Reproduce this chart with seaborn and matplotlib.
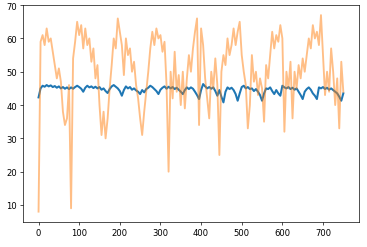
import numpy as np
import pandas as pd
import matplotlib
matplotlib.use("Agg")
import matplotlib.pyplot as plt
import seaborn as sns

step = 5
x_values = list(range(0, 751, step))

blue_values = [
    42.3, 45.0, 45.8, 45.5, 46.0, 45.6, 45.9, 45.4, 45.7, 45.2,
    45.6, 45.0, 45.4, 44.9, 45.3, 44.8, 45.3, 44.9, 45.4, 45.8,
    45.4, 44.9, 44.0, 45.2, 45.8, 45.3, 45.6, 45.1, 45.5, 45.0,
    45.4, 44.6, 45.0, 44.2, 43.6, 44.8, 45.6, 46.0, 45.5, 45.0,
    44.2, 42.8, 44.5, 45.6, 45.0, 45.4, 44.6, 45.0, 44.4, 44.0,
    43.3, 44.5, 43.8, 44.8, 45.2, 45.8, 45.4, 44.8, 44.2, 43.3,
    44.6, 45.2, 45.6, 44.9, 45.5, 45.0, 45.4, 44.8, 45.2, 44.6,
    44.0, 43.3, 44.5, 45.3, 44.8, 45.3, 44.9, 44.0, 43.0, 41.8,
    44.5, 46.3, 45.6, 45.0, 45.4, 44.9, 45.3, 44.2, 42.8, 44.5,
    42.5, 40.8, 44.0, 45.3, 44.8, 45.2, 44.5, 43.3, 41.3, 43.5,
    45.4, 45.8, 45.0, 45.4, 44.8, 45.0, 44.2, 44.8, 44.0, 43.0,
    41.3, 43.5, 45.0, 44.8, 45.3, 44.2, 43.3, 44.5, 43.5, 42.8,
    45.8, 45.3, 45.0, 45.4, 44.8, 45.2, 44.6, 45.0, 44.0, 43.0,
    41.8, 44.0, 44.8, 45.3, 44.6, 43.5, 42.8, 41.8, 45.3, 45.0,
    45.4, 44.8, 45.2, 44.6, 45.0, 44.5, 44.0, 43.5, 42.5, 41.3,
    43.5,
]

orange_values = [
    8, 59, 61, 58, 63, 59, 60, 56, 52, 48,
    51, 47, 38, 34, 36, 46, 9, 54, 59, 65,
    61, 64, 57, 63, 58, 60, 53, 57, 48, 52,
    40, 31, 38, 30, 36, 45, 52, 60, 57, 66,
    62, 58, 49, 60, 55, 57, 50, 53, 46, 42,
    36, 31, 38, 44, 50, 57, 62, 58, 63, 60,
    61, 56, 59, 46, 20, 50, 42, 56, 44, 49,
    40, 50, 39, 48, 55, 50, 57, 62, 66, 34,
    63, 58, 48, 42, 36, 50, 45, 54, 46, 25,
    50, 55, 52, 60, 55, 58, 63, 58, 62, 65,
    55, 50, 46, 33, 40, 55, 47, 50, 43, 48,
    45, 35, 52, 48, 55, 62, 57, 61, 59, 64,
    60, 32, 50, 45, 53, 36, 50, 45, 52, 48,
    54, 50, 55, 60, 57, 64, 60, 62, 58, 67,
    55, 43, 50, 44, 57, 50, 40, 48, 33, 53,
    44,
]

assert len(blue_values) == len(x_values) == len(orange_values)

df = pd.DataFrame({"x": x_values, "blue": blue_values, "orange": orange_values})

fig = plt.figure(figsize=(367 / 61.17, 248 / 61.17), dpi=61.17)
ax = fig.add_axes([0.0635, 0.0996, 0.977 - 0.0635, 0.976 - 0.0996])

sns.lineplot(data=df, x="x", y="blue", ax=ax, color="tab:blue", linewidth=2.4,
             estimator=None, sort=False)
sns.lineplot(data=df, x="x", y="orange", ax=ax, color="tab:orange", alpha=0.5,
             linewidth=2.2, estimator=None, sort=False)

ax.set_xlabel("")
ax.set_ylabel("")
ax.set_xlim(-37.5, 787.5)
ax.set_ylim(4.8, 70.05)
ax.set_yticks([10, 20, 30, 40, 50, 60, 70])
ax.set_xticks([0, 100, 200, 300, 400, 500, 600, 700])

fig.savefig("out.png", dpi=61.17)
